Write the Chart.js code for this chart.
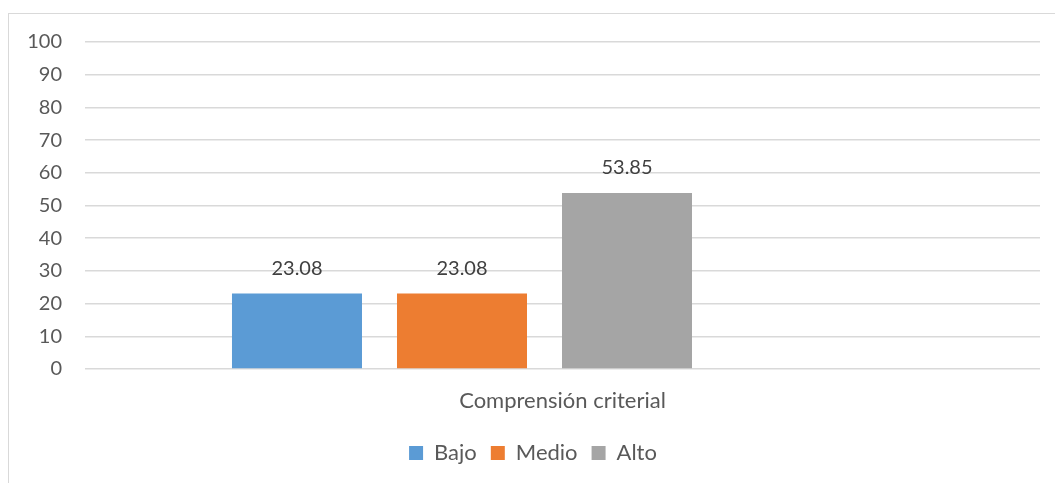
<!DOCTYPE html>
<html>
<head>
<meta charset="utf-8">
<script src="https://cdn.jsdelivr.net/npm/chart.js@4"></script>
<style>
html, body { margin: 0; padding: 0; background: #fff; }
#marco { position: absolute; left: 8px; top: 13px; width: 1060px; height: 480px; border-left: 1px solid #d9d9d9; border-top: 1px solid #d9d9d9; }
#caja { position: absolute; left: 0; top: 0; width: 1055px; height: 483px; }
</style>
</head>
<body>
<div id="marco"></div>
<div id="caja"><canvas id="grafico"></canvas></div>
<script>
// datos del grafico
const categorias = ['Comprensión criterial'];
const series = ['Bajo', 'Medio', 'Alto'];
const valores = [23.08, 23.08, 53.85];
const colores = ['#5b9bd5', '#ed7d31', '#a5a5a5'];

// ancho/posicion de cada barra dentro del grupo (como en el original, el grupo no esta centrado)
const anchoGrupo = [0.7414, 0.8419, 0.5403];
const anchoBarra = [0.7345, 0.6468, 1.0078];

const datasets = series.map(function(s, i) {
    return {
        label: s,
        data: [valores[i]],
        backgroundColor: colores[i],
        categoryPercentage: anchoGrupo[i],
        barPercentage: anchoBarra[i]
    };
});
// hueco vacio al final del grupo
datasets.push({ label: '', data: [null], backgroundColor: 'rgba(0,0,0,0)' });

const etiquetas = {
    id: 'etiquetas',
    afterDatasetsDraw(chart) {
        const ctx = chart.ctx;
        ctx.save();
        ctx.font = '20px Lato';
        ctx.fillStyle = '#404040';
        ctx.textAlign = 'center';
        ctx.textBaseline = 'middle';
        chart.data.datasets.forEach(function(ds, i) {
            chart.getDatasetMeta(i).data.forEach(function(bar, j) {
                if (ds.data[j] == null) return;
                ctx.fillText(ds.data[j].toFixed(2), bar.x, bar.y - 25);
            });
        });
        ctx.restore();
    }
};

new Chart('grafico', {
    type: 'bar',
    data: {
        labels: categorias,
        datasets: datasets
    },
    options: {
        responsive: true,
        maintainAspectRatio: false,
        animation: false,
        layout: {
            padding: { left: 26, right: 15, top: 42, bottom: 9 }
        },
        scales: {
            y: {
                min: 0,
                max: 100,
                ticks: { stepSize: 10, color: '#595959', font: { family: 'Lato', size: 20 }, padding: 23 },
                grid: { color: '#d9d9d9', lineWidth: 1.5, drawTicks: false },
                border: { display: false },
                afterFit: function(s) { s.width = 59; }
            },
            x: {
                ticks: { color: '#595959', font: { family: 'Lato', size: 22 }, padding: 11 },
                grid: { display: false },
                border: { display: false },
                afterFit: function(s) { s.height = 59; }
            }
        },
        plugins: {
            tooltip: { enabled: false },
            legend: {
                position: 'bottom',
                labels: {
                    boxWidth: 14,
                    boxHeight: 14,
                    padding: 14,
                    color: '#595959',
                    font: { family: 'Lato', size: 22 },
                    filter: function(item) { return item.text !== ''; }
                }
            }
        }
    },
    plugins: [etiquetas]
});
</script>
</body>
</html>
